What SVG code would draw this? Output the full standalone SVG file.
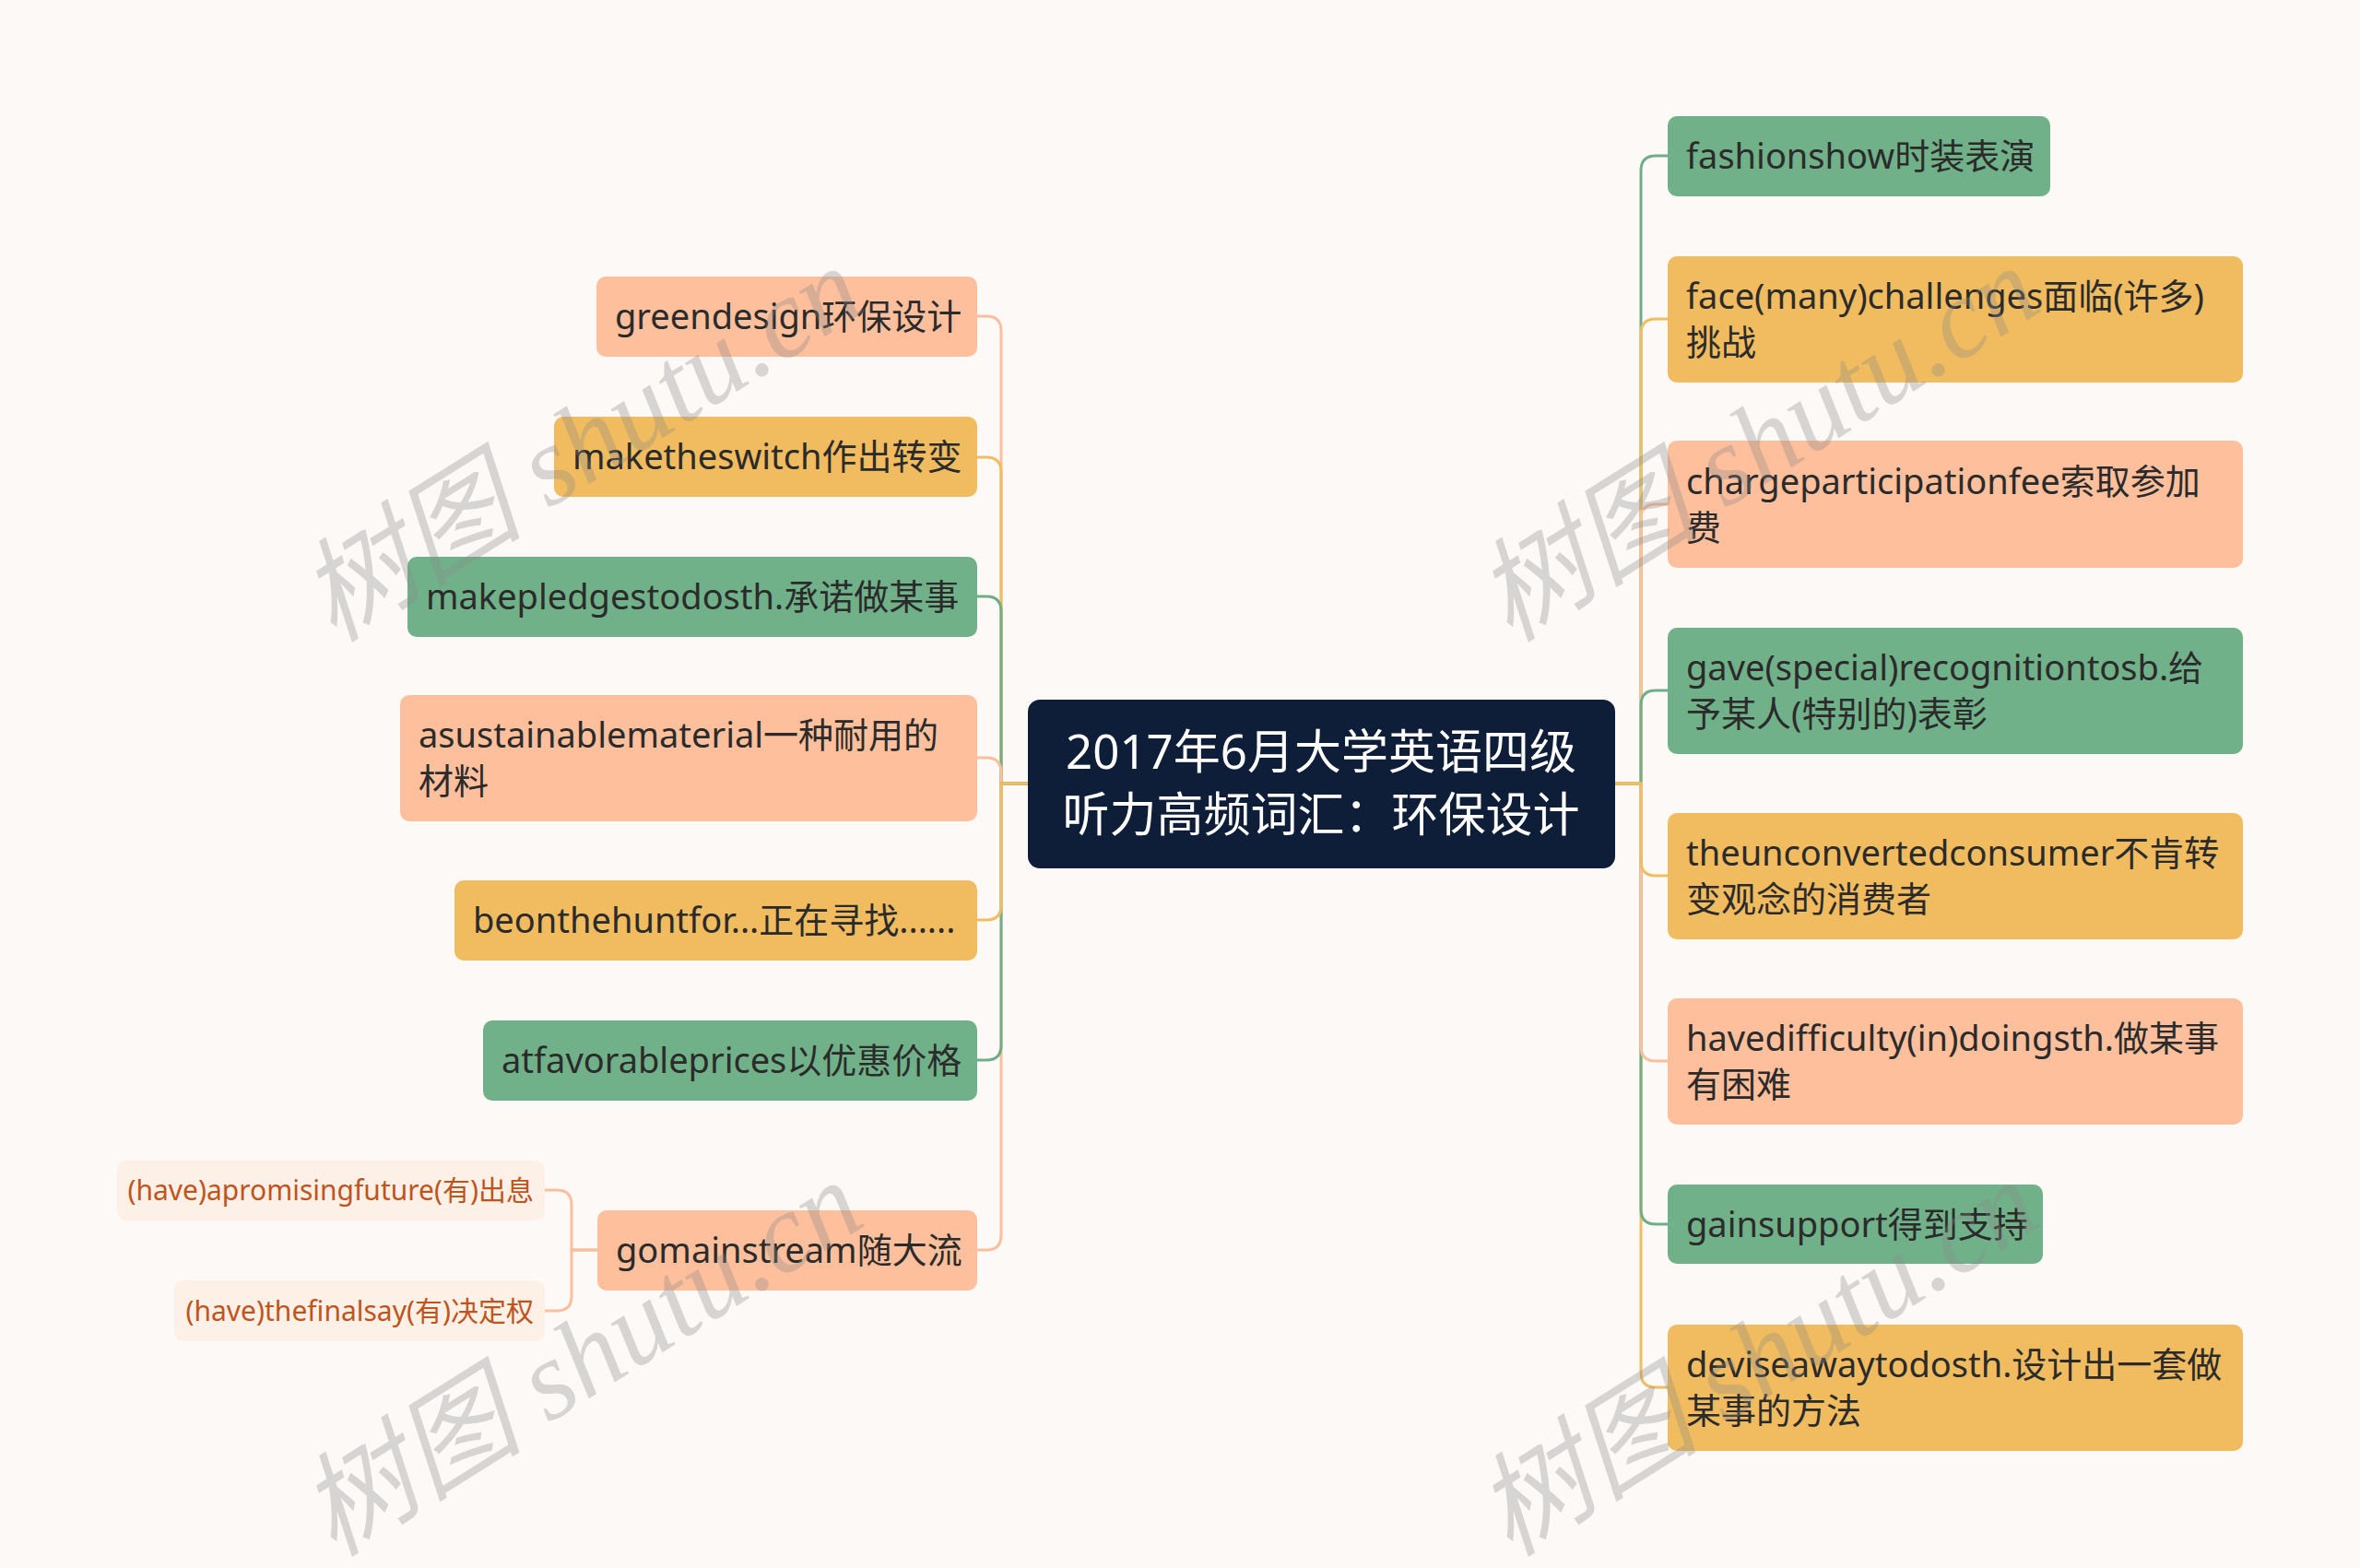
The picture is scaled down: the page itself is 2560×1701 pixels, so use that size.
<svg xmlns="http://www.w3.org/2000/svg" width="2560" height="1701" viewBox="0 0 2560 1701">
<style>
.t{font-family:"Noto Sans","Noto Sans CJK SC",sans-serif;font-size:38px;fill:#2b2b2b}
.c{font-family:"Noto Sans","Noto Sans CJK SC",sans-serif;font-size:30px;fill:#c0541c}
.title{font-family:"Noto Sans","Noto Sans CJK SC",sans-serif;font-size:51px;fill:#ffffff}
.wm{font-family:"Liberation Serif","Noto Sans CJK SC",serif;font-size:122px;fill:#8a8a8a;fill-opacity:0.32;font-style:italic}
.salmon{fill:#fdbf9c}.orange{fill:#f0bc5f}.green{fill:#71b189}.child{fill:#fdf0e6}
.ls,.lo,.lg{fill:none;stroke-width:3}
.ls{stroke:#f9bf9e}.lo{stroke:#efbd62}.lg{stroke:#6fae87}
</style>
<rect width="2560" height="1701" fill="#fdf9f7"/>
<g id="connectors">
<path class="ls" d="M1115 850H1086V359Q1086 343 1070 343H1060"/>
<path class="lo" d="M1115 850H1086V512Q1086 496 1070 496H1060"/>
<path class="lg" d="M1115 850H1086V663Q1086 647 1070 647H1060"/>
<path class="ls" d="M1115 850H1086V838Q1086 822 1070 822H1060"/>
<path class="ls" d="M1115 850H1086V1340Q1086 1356 1070 1356H1060"/>
<path class="lg" d="M1115 850H1086V1134Q1086 1150 1070 1150H1060"/>
<path class="lo" d="M1115 850H1086V982Q1086 998 1070 998H1060"/>
<path class="ls" d="M648 1356H620V1307Q620 1291 604 1291H591"/>
<path class="ls" d="M648 1356H620V1406Q620 1422 604 1422H591"/>
<path class="lg" d="M1752 850H1780V185Q1780 169 1796 169H1809"/>
<path class="lo" d="M1752 850H1780V362Q1780 346 1796 346H1809"/>
<path class="ls" d="M1752 850H1780V563Q1780 547 1796 547H1809"/>
<path class="lg" d="M1752 850H1780V765Q1780 749 1796 749H1809"/>
<path class="lo" d="M1752 850H1780V1489Q1780 1505 1796 1505H1809"/>
<path class="lg" d="M1752 850H1780V1312Q1780 1328 1796 1328H1809"/>
<path class="ls" d="M1752 850H1780V1135Q1780 1151 1796 1151H1809"/>
<path class="lo" d="M1752 850H1780V934Q1780 950 1796 950H1809"/>
</g>
<g id="center"><rect x="1115" y="759" width="637" height="183" rx="13" fill="#0f1e38"/>
<text class="title" x="1433" y="834" text-anchor="middle">2017年6月大学英语四级</text>
<text class="title" x="1433" y="902" text-anchor="middle">听力高频词汇：环保设计</text></g>
<g id="l1"><rect class="salmon" x="647" y="300" width="413" height="87" rx="10"/><text class="t" x="667" y="357">greendesign环保设计</text></g>
<g id="l2"><rect class="orange" x="601" y="452" width="459" height="87" rx="10"/><text class="t" x="621" y="509">maketheswitch作出转变</text></g>
<g id="l3"><rect class="green" x="442" y="604" width="618" height="87" rx="10"/><text class="t" x="462" y="661">makepledgestodosth.承诺做某事</text></g>
<g id="l4"><rect class="salmon" x="434" y="754" width="626" height="137" rx="10"/><text class="t" x="454" y="811">asustainablematerial一种耐用的</text><text class="t" x="454" y="861">材料</text></g>
<g id="l5"><rect class="orange" x="493" y="955" width="567" height="87" rx="10"/><text class="t" x="513" y="1012">beonthehuntfor...正在寻找......</text></g>
<g id="l6"><rect class="green" x="524" y="1107" width="536" height="87" rx="10"/><text class="t" x="544" y="1164">atfavorableprices以优惠价格</text></g>
<g id="l7"><rect class="salmon" x="648" y="1313" width="412" height="87" rx="10"/><text class="t" x="668" y="1370">gomainstream随大流</text></g>
<g id="l7a"><rect class="child" x="127" y="1259" width="464" height="65" rx="10"/><text class="c" x="579" y="1302" text-anchor="end">(have)apromisingfuture(有)出息</text></g>
<g id="l7b"><rect class="child" x="189" y="1389" width="402" height="66" rx="10"/><text class="c" x="579" y="1433" text-anchor="end">(have)thefinalsay(有)决定权</text></g>
<g id="r1"><rect class="green" x="1809" y="126" width="415" height="87" rx="10"/><text class="t" x="1829" y="183">fashionshow时装表演</text></g>
<g id="r2"><rect class="orange" x="1809" y="278" width="624" height="137" rx="10"/><text class="t" x="1829" y="335">face(many)challenges面临(许多)</text><text class="t" x="1829" y="385">挑战</text></g>
<g id="r3"><rect class="salmon" x="1809" y="478" width="624" height="138" rx="10"/><text class="t" x="1829" y="536">chargeparticipationfee索取参加</text><text class="t" x="1829" y="586">费</text></g>
<g id="r4"><rect class="green" x="1809" y="681" width="624" height="137" rx="10"/><text class="t" x="1829" y="738">gave(special)recognitiontosb.给</text><text class="t" x="1829" y="788">予某人(特别的)表彰</text></g>
<g id="r5"><rect class="orange" x="1809" y="882" width="624" height="137" rx="10"/><text class="t" x="1829" y="939">theunconvertedconsumer不肯转</text><text class="t" x="1829" y="989">变观念的消费者</text></g>
<g id="r6"><rect class="salmon" x="1809" y="1083" width="624" height="137" rx="10"/><text class="t" x="1829" y="1140">havedifficulty(in)doingsth.做某事</text><text class="t" x="1829" y="1190">有困难</text></g>
<g id="r7"><rect class="green" x="1809" y="1285" width="407" height="86" rx="10"/><text class="t" x="1829" y="1342">gainsupport得到支持</text></g>
<g id="r8"><rect class="orange" x="1809" y="1437" width="624" height="137" rx="10"/><text class="t" x="1829" y="1494">deviseawaytodosth.设计出一套做</text><text class="t" x="1829" y="1544">某事的方法</text></g>
<g id="watermarks">
<text class="wm" transform="translate(362 698) rotate(-32)">树图 shutu.cn</text>
<text class="wm" transform="translate(1638 698) rotate(-32)">树图 shutu.cn</text>
<text class="wm" transform="translate(362 1690) rotate(-32)">树图 shutu.cn</text>
<text class="wm" transform="translate(1638 1690) rotate(-32)">树图 shutu.cn</text>
</g>
</svg>
